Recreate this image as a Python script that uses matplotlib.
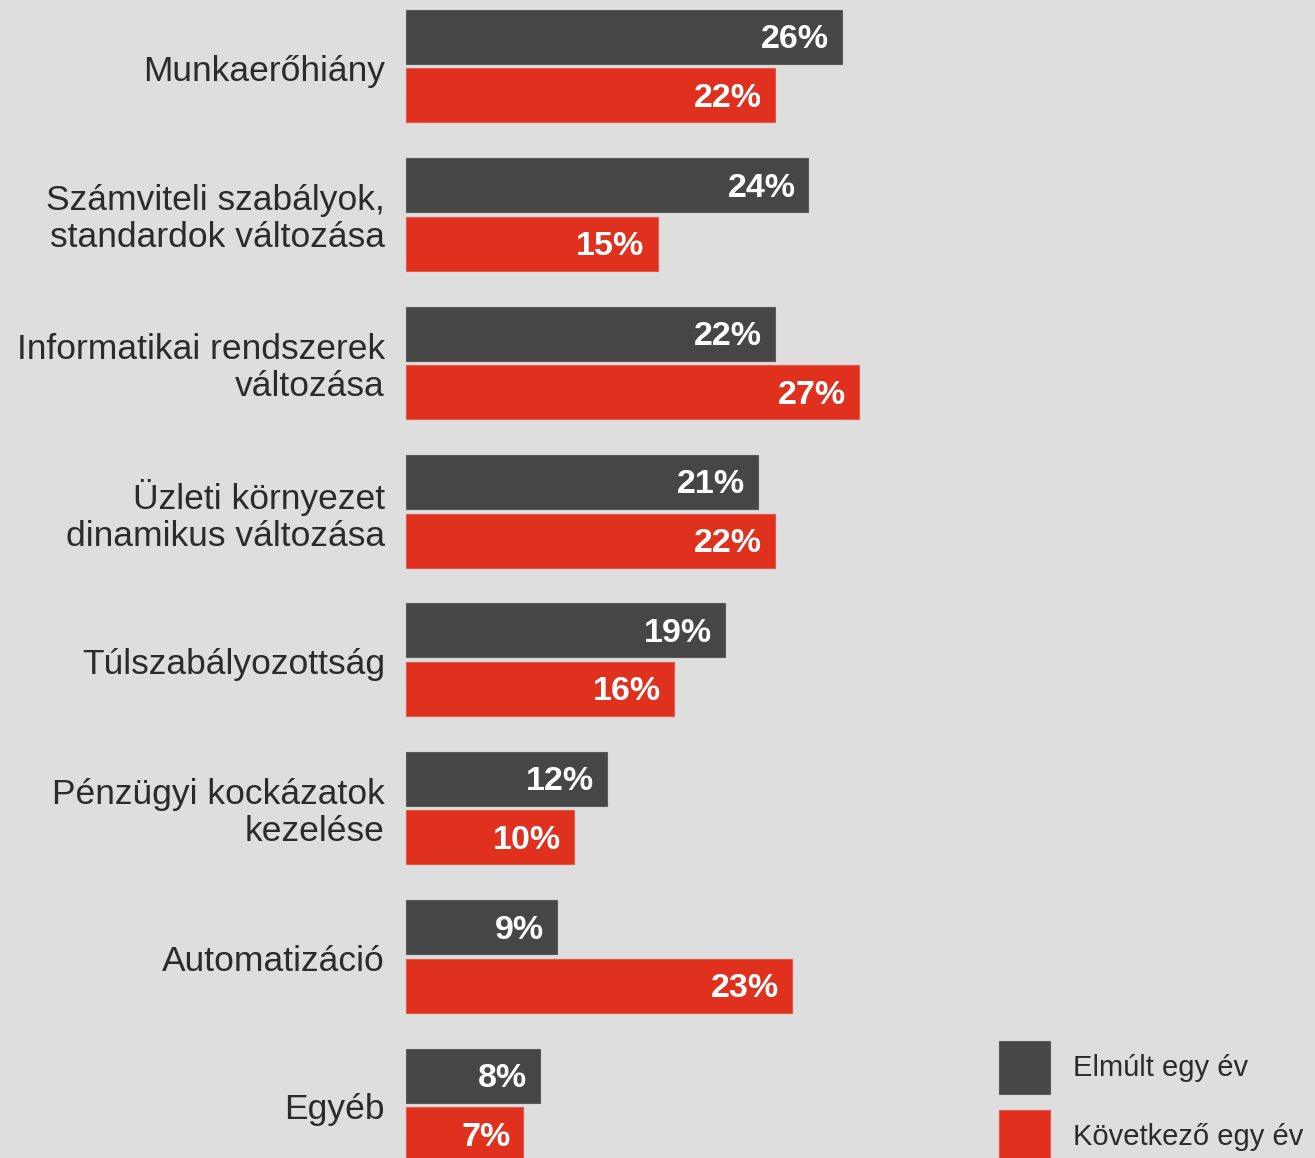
import numpy as np
import matplotlib
matplotlib.use('Agg')
import matplotlib.pyplot as plt

categories = [
    'Munkaerőhiány',
    'Számviteli szabályok,\nstandardok változása',
    'Informatikai rendszerek\nváltozása',
    'Üzleti környezet\ndinamikus változása',
    'Túlszabályozottság',
    'Pénzügyi kockázatok\nkezelése',
    'Automatizáció',
    'Egyéb',
]
past_year = [26, 24, 22, 21, 19, 12, 9, 8]
next_year = [22, 15, 27, 22, 16, 10, 23, 7]
series_names = ['Elmúlt egy év', 'Következő egy év']

BG = '#dedede'
DARK = '#464646'
RED = '#e0301e'
TXT = '#2b2b2b'

plt.rcParams['font.family'] = ['Liberation Sans', 'DejaVu Sans']

W, H = 1315, 1158
fig = plt.figure(figsize=(W / 100, H / 100), dpi=100, facecolor=BG)
ax = fig.add_axes([0, 0, 1, 1], facecolor=BG)

px_per_unit = 16.77      # pixels per percent
x0 = 406                 # pixel position of zero
period = 148.4           # pixels between groups
first_center = 66        # pixel y of first group center

y = np.arange(len(categories))
h = 54 / period
off = 29.3 / period

ax.barh(y - off, past_year, height=h, color=DARK, edgecolor='#5a5a5a', linewidth=0.8,
        label=series_names[0])
ax.barh(y + off, next_year, height=h, color=RED, edgecolor='#e8574a', linewidth=0.8,
        label=series_names[1])

pad = 13 / px_per_unit
nudge = 3 / period
for i in range(len(categories)):
    ax.text(past_year[i] - pad, y[i] - off + nudge, f'{past_year[i]}%', ha='right',
            va='center', color='white', fontsize=24.5, fontweight='bold')
    ax.text(next_year[i] - pad, y[i] + off + nudge, f'{next_year[i]}%', ha='right',
            va='center', color='white', fontsize=24.5, fontweight='bold')
    ax.text(-21 / px_per_unit, y[i] + 5 / period, categories[i], ha='right', va='center',
            color=TXT, fontsize=25.5, linespacing=1.15)

ax.set_xlim(-x0 / px_per_unit, (W - x0) / px_per_unit)
ax.set_ylim((H - first_center) / period, -first_center / period)
ax.axis('off')

leg = ax.legend(loc='upper left', bbox_to_anchor=(999 / W, 1 - 1041 / H),
                bbox_transform=fig.transFigure, frameon=False, fontsize=21,
                handlelength=1.74, handleheight=2.4, handletextpad=0.8,
                labelspacing=0.56, borderpad=0, borderaxespad=0)
for t in leg.get_texts():
    t.set_color(TXT)

fig.savefig('out.png', dpi=100, facecolor=BG)
